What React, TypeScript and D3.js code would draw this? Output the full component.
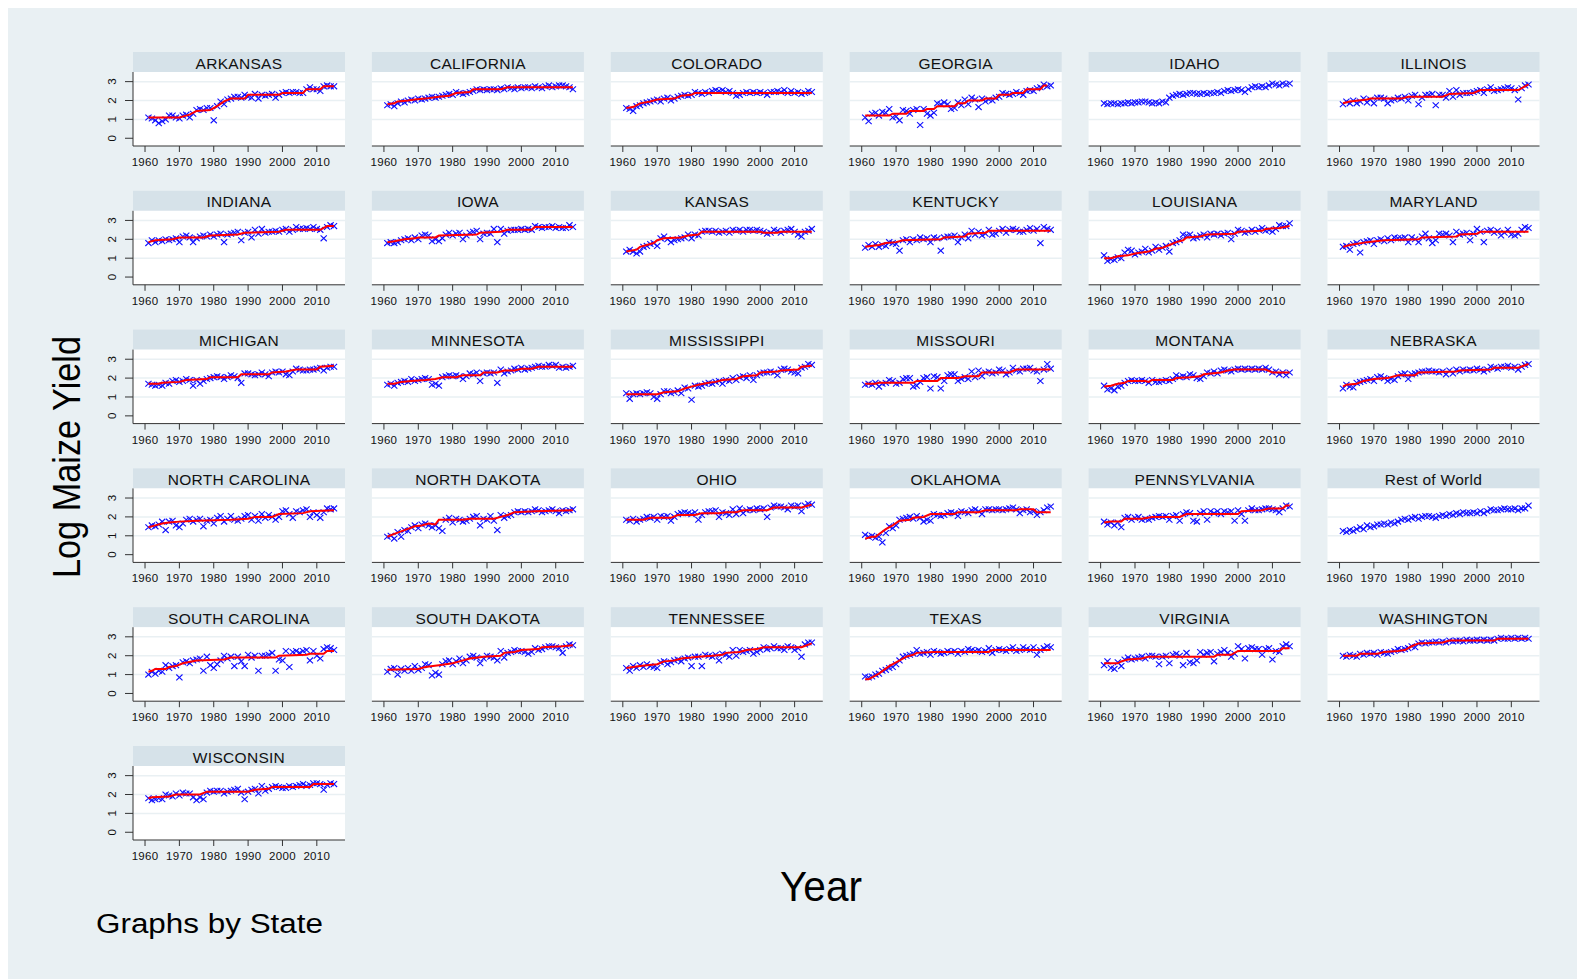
import React from 'react';
import * as d3 from 'd3';

const years = [
  1961, 1962, 1963, 1964, 1965, 1966, 1967, 1968, 1969, 1970, 1971,
  1972, 1973, 1974, 1975, 1976, 1977, 1978, 1979, 1980, 1981, 1982,
  1983, 1984, 1985, 1986, 1987, 1988, 1989, 1990, 1991, 1992, 1993,
  1994, 1995, 1996, 1997, 1998, 1999, 2000, 2001, 2002, 2003, 2004,
  2005, 2006, 2007, 2008, 2009, 2010, 2011, 2012, 2013, 2014, 2015,
];

const xTicks = [1960, 1970, 1980, 1990, 2000, 2010];
const yTicks = [0, 1, 2, 3];
const gridValues = [1, 2, 3];

const arkansas = [
  1.1, 1.05, 0.95, 0.8, 0.9, 1.0, 1.2, 1.2, 1.1, 1.05, 1.2,
  1.25, 1.1, 1.3, 1.5, 1.55, 1.5, 1.6, 1.6, 0.95, 1.7, 1.95,
  1.8, 2.05, 2.1, 2.2, 2.2, 2.15, 2.3, 2.2, 2.15, 2.35, 2.1,
  2.3, 2.25, 2.3, 2.35, 2.15, 2.3, 2.4, 2.45, 2.4, 2.45, 2.45,
  2.4, 2.4, 2.6, 2.7, 2.6, 2.6, 2.5, 2.75, 2.8, 2.75, 2.75,
];
const california = [
  1.75, 1.8, 1.7, 1.85, 1.95, 1.9, 2.0, 2.05, 2.0, 2.1, 2.05,
  2.1, 2.15, 2.2, 2.15, 2.2, 2.25, 2.3, 2.35, 2.3, 2.45, 2.4,
  2.35, 2.4, 2.45, 2.5, 2.6, 2.55, 2.6, 2.55, 2.6, 2.6, 2.55,
  2.65, 2.6, 2.7, 2.65, 2.6, 2.7, 2.65, 2.7, 2.7, 2.65, 2.75,
  2.7, 2.65, 2.75, 2.8, 2.7, 2.75, 2.8, 2.8, 2.75, 2.7, 2.6,
];
const colorado = [
  1.6, 1.55, 1.45, 1.7, 1.75, 1.85, 1.9, 1.95, 2.0, 2.05, 1.95,
  2.1, 2.15, 2.0, 2.1, 2.2, 2.25, 2.3, 2.25, 2.3, 2.45, 2.4,
  2.35, 2.45, 2.4, 2.5, 2.55, 2.5, 2.55, 2.45, 2.5, 2.4, 2.25,
  2.3, 2.4, 2.45, 2.4, 2.45, 2.4, 2.45, 2.4, 2.3, 2.45, 2.45,
  2.5, 2.45, 2.55, 2.4, 2.5, 2.4, 2.45, 2.35, 2.4, 2.5, 2.45,
];
const georgia = [
  1.1, 0.9, 1.3, 1.35, 1.2, 1.4, 1.35, 1.55, 1.1, 1.15, 0.95,
  1.5, 1.45, 1.3, 1.5, 1.55, 0.7, 1.55, 1.3, 1.2, 1.35, 1.85,
  1.8, 1.9, 1.8, 1.55, 1.6, 1.9, 1.75, 2.05, 1.8, 2.15, 2.05,
  1.65, 2.1, 1.95, 2.05, 2.0, 2.15, 2.2, 2.4, 2.35, 2.3, 2.35,
  2.45, 2.4, 2.3, 2.5, 2.55, 2.5, 2.65, 2.7, 2.85, 2.75, 2.8,
];
const idaho = [
  1.85, 1.8, 1.85, 1.85, 1.8, 1.85, 1.85, 1.9, 1.85, 1.9, 1.9,
  1.95, 1.95, 1.9, 1.85, 1.9, 1.85, 1.95, 1.9, 2.15, 2.25, 2.3,
  2.35, 2.3, 2.35, 2.4, 2.4, 2.35, 2.35, 2.4, 2.35, 2.4, 2.4,
  2.45, 2.4, 2.5, 2.55, 2.5, 2.55, 2.6, 2.55, 2.45, 2.6, 2.7,
  2.75, 2.7, 2.75, 2.7, 2.8, 2.9, 2.85, 2.8, 2.9, 2.85, 2.9,
];
const illinois = [
  1.8, 1.95, 1.85, 2.0, 1.85, 1.95, 2.1, 1.9, 2.05, 1.85, 2.15,
  2.15, 2.1, 1.85, 2.0, 2.05, 2.15, 2.1, 2.2, 2.0, 2.25, 2.3,
  1.8, 2.15, 2.3, 2.3, 2.35, 1.75, 2.3, 2.3, 2.15, 2.5, 2.2,
  2.55, 2.3, 2.4, 2.4, 2.4, 2.45, 2.5, 2.55, 2.4, 2.6, 2.7,
  2.5, 2.55, 2.6, 2.65, 2.7, 2.65, 2.55, 2.05, 2.65, 2.8, 2.85,
];
const indiana = [
  1.8, 1.95, 1.85, 1.95, 1.9, 2.0, 1.95, 2.0, 2.05, 1.85, 2.15,
  2.2, 2.1, 1.85, 2.05, 2.15, 2.2, 2.15, 2.25, 2.15, 2.25, 2.3,
  1.85, 2.25, 2.3, 2.35, 2.4, 1.95, 2.35, 2.4, 2.1, 2.5, 2.3,
  2.55, 2.35, 2.4, 2.4, 2.45, 2.4, 2.5, 2.55, 2.4, 2.5, 2.65,
  2.55, 2.55, 2.6, 2.55, 2.65, 2.55, 2.5, 2.05, 2.65, 2.75, 2.7,
];
const iowa = [
  1.8, 1.85, 1.8, 1.85, 1.95, 2.0, 2.05, 1.95, 2.1, 2.0, 2.2,
  2.25, 2.2, 1.9, 2.0, 1.9, 2.05, 2.25, 2.35, 2.2, 2.3, 2.35,
  2.0, 2.2, 2.35, 2.4, 2.45, 2.0, 2.3, 2.35, 2.3, 2.55, 1.85,
  2.55, 2.3, 2.45, 2.5, 2.5, 2.5, 2.55, 2.5, 2.55, 2.5, 2.7,
  2.65, 2.6, 2.65, 2.65, 2.7, 2.6, 2.65, 2.6, 2.6, 2.75, 2.65,
];
const kansas = [
  1.35, 1.45, 1.35, 1.25, 1.35, 1.6, 1.65, 1.75, 1.8, 1.65, 2.05,
  2.15, 2.0, 1.85, 1.95, 2.0, 2.05, 2.1, 2.25, 2.05, 2.25, 2.2,
  2.4, 2.45, 2.45, 2.4, 2.45, 2.35, 2.4, 2.45, 2.35, 2.5, 2.45,
  2.5, 2.4, 2.5, 2.5, 2.45, 2.5, 2.45, 2.4, 2.3, 2.35, 2.5,
  2.45, 2.35, 2.45, 2.5, 2.55, 2.4, 2.25, 2.15, 2.4, 2.45, 2.55,
];
const kentucky = [
  1.55, 1.7, 1.6, 1.75, 1.6, 1.7, 1.65, 1.85, 1.8, 1.75, 1.4,
  1.95, 2.0, 1.85, 2.0, 1.95, 2.1, 2.0, 2.05, 1.85, 2.1, 2.05,
  1.4, 2.1, 2.15, 2.15, 2.2, 1.85, 2.1, 2.25, 2.05, 2.45, 2.25,
  2.4, 2.2, 2.3, 2.5, 2.25, 2.3, 2.45, 2.55, 2.35, 2.5, 2.55,
  2.5, 2.4, 2.4, 2.5, 2.6, 2.45, 2.55, 1.8, 2.65, 2.55, 2.5,
];
const louisiana = [
  1.15, 0.85, 0.95, 0.9, 1.05, 1.0, 1.3, 1.45, 1.4, 1.2, 1.3,
  1.35, 1.5, 1.3, 1.4, 1.6, 1.45, 1.55, 1.65, 1.35, 1.8, 1.85,
  1.95, 2.25, 2.2, 2.25, 2.05, 2.1, 2.2, 2.25, 2.1, 2.3, 2.25,
  2.3, 2.2, 2.3, 2.35, 2.0, 2.3, 2.5, 2.45, 2.35, 2.4, 2.5,
  2.4, 2.5, 2.6, 2.45, 2.5, 2.4, 2.55, 2.75, 2.7, 2.7, 2.85,
];
const maryland = [
  1.6, 1.65, 1.45, 1.75, 1.8, 1.3, 1.85, 1.9, 1.95, 1.75, 1.95,
  2.0, 1.9, 2.05, 1.95, 2.1, 2.05, 2.05, 2.1, 1.85, 2.1, 2.0,
  1.85, 2.15, 2.3, 2.05, 1.8, 1.95, 2.3, 2.25, 2.3, 2.2, 1.85,
  2.4, 2.25, 2.3, 2.35, 1.95, 2.3, 2.55, 2.4, 1.85, 2.45, 2.5,
  2.35, 2.45, 2.2, 2.35, 2.5, 2.25, 2.2, 2.3, 2.5, 2.65, 2.6,
];
const michigan = [
  1.7, 1.65, 1.6, 1.65, 1.6, 1.75, 1.7, 1.85, 1.9, 1.8, 1.85,
  1.95, 1.9, 1.6, 1.9, 1.7, 1.85, 1.95, 2.0, 2.05, 2.1, 2.05,
  1.95, 2.05, 2.15, 2.1, 2.0, 1.75, 2.25, 2.25, 2.2, 2.15, 2.2,
  2.3, 2.2, 2.1, 2.3, 2.35, 2.3, 2.35, 2.2, 2.15, 2.35, 2.5,
  2.45, 2.4, 2.4, 2.45, 2.45, 2.5, 2.55, 2.4, 2.55, 2.6, 2.6,
];
const minnesota = [
  1.65, 1.7, 1.6, 1.75, 1.8, 1.85, 1.8, 1.95, 1.85, 1.9, 1.95,
  2.0, 1.95, 1.65, 1.7, 1.6, 2.05, 2.1, 2.15, 2.1, 2.15, 2.1,
  1.95, 2.1, 2.25, 2.2, 2.3, 1.85, 2.25, 2.3, 2.25, 2.3, 1.75,
  2.45, 2.25, 2.35, 2.4, 2.5, 2.45, 2.55, 2.45, 2.5, 2.55, 2.6,
  2.65, 2.6, 2.6, 2.7, 2.65, 2.7, 2.55, 2.6, 2.55, 2.6, 2.65,
];
const mississippi = [
  1.2, 0.9, 1.15, 1.2, 1.15, 1.2, 1.25, 1.2, 1.0, 0.9, 1.15,
  1.3, 1.3, 1.2, 1.25, 1.35, 1.2, 1.5, 1.45, 0.85, 1.6, 1.55,
  1.6, 1.7, 1.75, 1.7, 1.8, 1.85, 1.7, 1.9, 1.85, 2.0, 1.9,
  2.05, 2.1, 2.0, 2.15, 1.9, 2.15, 2.25, 2.3, 2.3, 2.35, 2.3,
  2.15, 2.45, 2.5, 2.45, 2.35, 2.3, 2.25, 2.55, 2.6, 2.75, 2.7,
];
const missouri = [
  1.65, 1.7, 1.65, 1.75, 1.55, 1.7, 1.75, 1.9, 1.85, 1.7, 1.75,
  1.95, 2.0, 2.0, 1.55, 1.6, 1.8, 2.0, 2.05, 1.45, 2.1, 2.05,
  1.45, 1.85, 2.15, 2.2, 2.2, 1.85, 1.95, 2.05, 1.95, 2.35, 2.05,
  2.4, 2.1, 2.3, 2.35, 2.25, 2.3, 2.45, 2.4, 2.2, 2.3, 2.55,
  2.4, 2.35, 2.5, 2.5, 2.55, 2.4, 2.35, 1.85, 2.45, 2.75, 2.5,
];
const montana = [
  1.6, 1.4, 1.45, 1.35, 1.55, 1.6, 1.75, 1.85, 1.9, 1.85, 1.85,
  1.9, 1.85, 1.75, 1.9, 1.8, 1.8, 1.85, 1.9, 1.85, 1.95, 2.15,
  2.05, 2.1, 2.05, 2.2, 2.15, 2.0, 1.95, 2.1, 2.3, 2.25, 2.35,
  2.25, 2.4, 2.45, 2.4, 2.35, 2.45, 2.5, 2.45, 2.5, 2.45, 2.5,
  2.45, 2.5, 2.45, 2.55, 2.45, 2.3, 2.35, 2.2, 2.3, 2.15, 2.3,
];
const nebraska = [
  1.45, 1.65, 1.55, 1.5, 1.75, 1.8, 1.85, 1.9, 1.95, 1.85, 2.05,
  2.1, 2.0, 1.85, 1.95, 1.9, 2.1, 2.2, 2.25, 1.95, 2.2, 2.25,
  2.3, 2.35, 2.35, 2.4, 2.35, 2.35, 2.3, 2.35, 2.2, 2.4, 2.25,
  2.45, 2.35, 2.45, 2.4, 2.45, 2.4, 2.5, 2.45, 2.35, 2.45, 2.6,
  2.55, 2.5, 2.6, 2.6, 2.65, 2.55, 2.6, 2.45, 2.6, 2.7, 2.75,
];
const northCarolina = [
  1.45, 1.55, 1.5, 1.6, 1.75, 1.3, 1.75, 1.8, 1.55, 1.45, 1.65,
  1.85, 1.9, 1.75, 1.85, 1.9, 1.5, 1.8, 1.85, 1.65, 1.95, 2.05,
  1.75, 1.9, 2.05, 1.85, 1.8, 1.9, 2.05, 2.1, 1.85, 2.05, 1.8,
  2.15, 1.95, 2.1, 2.0, 1.85, 2.0, 2.3, 2.35, 2.15, 1.95, 2.3,
  2.25, 2.35, 2.4, 2.0, 2.25, 2.1, 1.95, 2.25, 2.45, 2.4, 2.45,
];
const northDakota = [
  0.95, 1.0, 0.85, 1.2, 0.95, 1.3, 1.25, 1.45, 1.55, 1.4, 1.6,
  1.65, 1.55, 1.45, 1.55, 1.4, 1.25, 1.85, 1.95, 1.7, 1.9, 1.85,
  1.75, 1.8, 1.9, 2.0, 2.05, 1.55, 1.9, 1.85, 2.05, 1.8, 1.3,
  2.1, 1.95, 2.05, 2.1, 2.25, 2.3, 2.25, 2.3, 2.25, 2.3, 2.4,
  2.35, 2.25, 2.3, 2.35, 2.4, 2.3, 2.2, 2.35, 2.3, 2.35, 2.4,
];
const ohio = [
  1.85, 1.8, 1.9, 1.75, 1.85, 1.9, 2.0, 1.95, 2.0, 1.85, 2.05,
  2.0, 2.05, 1.8, 2.0, 2.15, 2.2, 2.25, 2.2, 2.15, 2.25, 1.85,
  2.1, 2.25, 2.3, 2.3, 2.35, 2.0, 2.25, 2.2, 2.1, 2.4, 2.15,
  2.45, 2.2, 2.35, 2.4, 2.35, 2.45, 2.4, 2.45, 2.0, 2.5, 2.6,
  2.55, 2.55, 2.5, 2.4, 2.6, 2.55, 2.6, 2.3, 2.6, 2.7, 2.65,
];
const oklahoma = [
  1.05, 0.95, 1.0, 0.9, 0.95, 0.65, 1.15, 1.5, 1.4, 1.55, 1.85,
  1.9, 1.95, 2.0, 1.9, 2.05, 1.95, 1.75, 1.85, 1.8, 2.15, 2.1,
  2.05, 2.1, 2.2, 2.25, 2.2, 2.05, 2.3, 2.25, 2.2, 2.35, 2.4,
  2.3, 2.15, 2.4, 2.4, 2.35, 2.4, 2.4, 2.35, 2.4, 2.45, 2.5,
  2.4, 2.2, 2.35, 2.4, 2.25, 2.3, 2.1, 2.25, 2.35, 2.5, 2.55,
];
const pennsylvania = [
  1.75, 1.6, 1.7, 1.55, 1.7, 1.45, 1.95, 2.0, 1.85, 1.95, 2.0,
  1.85, 1.9, 1.85, 1.95, 2.0, 2.05, 2.0, 2.05, 1.85, 2.05, 2.1,
  1.8, 2.15, 2.25, 2.2, 1.8, 1.75, 2.2, 2.3, 1.85, 2.3, 2.2,
  2.3, 2.15, 2.3, 2.25, 2.3, 1.8, 2.35, 2.15, 1.8, 2.35, 2.45,
  2.35, 2.35, 2.4, 2.45, 2.45, 2.4, 2.35, 2.25, 2.45, 2.6, 2.55,
];
const restOfWorld = [
  1.25, 1.2, 1.3, 1.25, 1.35, 1.45, 1.35, 1.55, 1.45, 1.5, 1.6,
  1.6, 1.65, 1.6, 1.7, 1.65, 1.75, 1.85, 1.9, 1.85, 1.95, 2.0,
  1.9, 2.0, 2.05, 2.05, 2.0, 1.95, 2.05, 2.1, 2.05, 2.15, 2.1,
  2.2, 2.15, 2.25, 2.2, 2.2, 2.25, 2.2, 2.3, 2.2, 2.3, 2.4,
  2.35, 2.35, 2.4, 2.45, 2.4, 2.4, 2.45, 2.35, 2.45, 2.45, 2.6,
];
const southCarolina = [
  1.0, 1.15, 1.05, 1.2, 1.15, 1.5, 1.35, 1.45, 1.5, 0.85, 1.65,
  1.7, 1.6, 1.75, 1.8, 1.85, 1.2, 1.95, 1.5, 1.35, 1.55, 1.75,
  2.0, 1.85, 1.95, 1.45, 1.95, 1.7, 1.45, 2.05, 1.9, 2.0, 1.2,
  2.0, 2.0, 2.05, 2.15, 1.2, 1.8, 1.75, 2.25, 1.4, 2.2, 2.25,
  2.15, 2.25, 2.3, 1.75, 2.25, 2.0, 1.85, 2.35, 2.45, 2.4, 2.3,
];
const southDakota = [
  1.15, 1.3, 1.35, 1.0, 1.3, 1.2, 1.35, 1.2, 1.45, 1.25, 1.35,
  1.55, 1.5, 0.95, 1.1, 1.0, 1.55, 1.7, 1.75, 1.55, 1.7, 1.85,
  1.6, 1.75, 1.95, 2.0, 1.9, 1.6, 1.85, 2.0, 1.95, 1.9, 1.75,
  2.25, 1.9, 2.15, 2.2, 2.3, 2.25, 2.25, 2.2, 2.1, 2.2, 2.4,
  2.3, 2.35, 2.45, 2.5, 2.5, 2.45, 2.4, 2.15, 2.5, 2.6, 2.55,
];
const tennessee = [
  1.35, 1.2, 1.45, 1.35, 1.5, 1.4, 1.55, 1.45, 1.4, 1.35, 1.65,
  1.7, 1.55, 1.65, 1.75, 1.8, 1.7, 1.85, 1.9, 1.45, 1.95, 1.95,
  1.45, 2.05, 2.0, 1.95, 2.05, 1.75, 2.1, 2.05, 1.95, 2.3, 2.0,
  2.3, 2.2, 2.25, 2.3, 2.1, 2.2, 2.3, 2.45, 2.35, 2.4, 2.5,
  2.4, 2.4, 2.3, 2.5, 2.45, 2.3, 2.4, 1.95, 2.6, 2.7, 2.7,
];
const texas = [
  0.9, 0.85, 0.9, 1.0, 1.05, 1.2, 1.25, 1.35, 1.4, 1.55, 1.75,
  1.95, 2.0, 2.05, 2.1, 2.3, 2.1, 2.15, 2.2, 2.05, 2.25, 2.2,
  2.1, 2.15, 2.25, 2.2, 2.25, 2.1, 2.25, 2.2, 2.35, 2.3, 2.25,
  2.3, 2.2, 2.25, 2.4, 2.15, 2.3, 2.35, 2.3, 2.25, 2.35, 2.45,
  2.25, 2.3, 2.45, 2.35, 2.3, 2.45, 2.05, 2.3, 2.4, 2.5, 2.45,
];
const virginia = [
  1.5, 1.7, 1.35, 1.3, 1.65, 1.45, 1.8, 1.9, 1.8, 1.85, 1.9,
  1.95, 1.85, 2.0, 2.0, 1.95, 1.55, 1.95, 2.0, 1.6, 2.05, 2.1,
  2.0, 1.5, 2.15, 1.65, 1.6, 1.75, 2.2, 2.05, 2.15, 2.2, 1.7,
  2.1, 2.2, 2.3, 2.15, 1.95, 2.1, 2.5, 2.35, 1.85, 2.4, 2.45,
  2.35, 2.35, 2.05, 2.35, 2.4, 1.8, 2.25, 2.2, 2.5, 2.6, 2.5,
];
const washington = [
  2.0, 1.95, 2.05, 2.0, 1.95, 2.1, 2.05, 2.15, 2.1, 2.15, 2.05,
  2.2, 2.15, 2.1, 2.2, 2.25, 2.35, 2.3, 2.35, 2.4, 2.5, 2.45,
  2.65, 2.7, 2.65, 2.7, 2.7, 2.75, 2.7, 2.75, 2.7, 2.8, 2.75,
  2.8, 2.8, 2.75, 2.85, 2.8, 2.8, 2.85, 2.8, 2.85, 2.8, 2.85,
  2.8, 2.9, 2.95, 2.9, 2.9, 2.95, 2.9, 2.95, 2.9, 2.95, 2.9,
];
const wisconsin = [
  1.8, 1.7, 1.75, 1.8, 1.75, 2.0, 1.95, 1.9, 2.05, 1.95, 2.1,
  2.05, 2.05, 1.85, 1.7, 1.85, 1.75, 2.1, 2.2, 2.15, 2.2, 2.2,
  2.05, 2.15, 2.2, 2.25, 2.3, 2.1, 1.75, 2.15, 2.25, 2.3, 2.05,
  2.45, 2.2, 2.3, 2.4, 2.45, 2.4, 2.35, 2.35, 2.45, 2.4, 2.45,
  2.5, 2.55, 2.45, 2.5, 2.6, 2.6, 2.55, 2.25, 2.5, 2.6, 2.55,
];

// Fitted trend (red line) break points: [year, value]
const arkansasTrend = [[1961, 1.1], [1970, 1.1], [1973, 1.25], [1975, 1.45], [1979, 1.5], [1981, 1.7], [1983, 1.95], [1985, 2.1], [1989, 2.1], [1990, 2.3], [1999, 2.3], [2000, 2.4], [2006, 2.4], [2007, 2.6], [2011, 2.6], [2012, 2.75], [2015, 2.75]];
const californiaTrend = [[1961, 1.8], [1963, 1.85], [1964, 1.95], [1967, 2.0], [1969, 2.05], [1972, 2.1], [1976, 2.2], [1979, 2.25], [1981, 2.4], [1985, 2.45], [1986, 2.6], [1994, 2.6], [1996, 2.7], [2015, 2.7]];
const coloradoTrend = [[1961, 1.6], [1963, 1.65], [1965, 1.85], [1968, 1.95], [1970, 2.05], [1975, 2.1], [1977, 2.25], [1980, 2.3], [1981, 2.4], [2015, 2.4]];
const georgiaTrend = [[1961, 1.2], [1968, 1.2], [1969, 1.3], [1973, 1.3], [1974, 1.45], [1978, 1.45], [1979, 1.55], [1981, 1.55], [1982, 1.7], [1987, 1.7], [1988, 1.85], [1990, 1.85], [1991, 2.0], [1995, 2.0], [1996, 2.1], [1999, 2.1], [2000, 2.3], [2003, 2.3], [2004, 2.4], [2007, 2.4], [2008, 2.6], [2012, 2.6], [2013, 2.8], [2014, 2.8]];
const illinoisTrend = [[1961, 1.85], [1963, 1.95], [1968, 2.05], [1969, 2.1], [1978, 2.1], [1980, 2.2], [1990, 2.2], [1992, 2.35], [1999, 2.4], [2001, 2.55], [2012, 2.55], [2015, 2.85]];
const indianaTrend = [[1961, 1.85], [1963, 1.95], [1968, 2.0], [1970, 2.1], [1977, 2.1], [1979, 2.2], [1987, 2.25], [1989, 2.35], [1999, 2.4], [2001, 2.5], [2011, 2.5], [2013, 2.7], [2015, 2.7]];
const iowaTrend = [[1961, 1.85], [1963, 1.9], [1966, 2.0], [1969, 2.05], [1970, 2.1], [1975, 2.1], [1976, 2.2], [1987, 2.25], [1988, 2.35], [1994, 2.4], [1996, 2.5], [2003, 2.5], [2004, 2.65], [2015, 2.65]];
const kansasTrend = [[1961, 1.35], [1964, 1.45], [1965, 1.6], [1969, 1.8], [1970, 1.95], [1972, 2.05], [1977, 2.1], [1979, 2.2], [1982, 2.25], [1983, 2.4], [2000, 2.4], [2001, 2.35], [2005, 2.35], [2006, 2.4], [2015, 2.4]];
const kentuckyTrend = [[1961, 1.6], [1965, 1.7], [1967, 1.8], [1970, 1.85], [1972, 1.95], [1983, 2.0], [1984, 2.1], [1990, 2.15], [1991, 2.3], [1996, 2.35], [1997, 2.45], [2015, 2.45]];
const louisianaTrend = [[1961, 1.0], [1963, 1.0], [1965, 1.1], [1968, 1.15], [1970, 1.25], [1972, 1.3], [1974, 1.35], [1976, 1.5], [1978, 1.55], [1980, 1.7], [1982, 1.85], [1984, 1.95], [1985, 2.1], [1989, 2.15], [1991, 2.25], [1999, 2.3], [2000, 2.4], [2007, 2.45], [2008, 2.55], [2012, 2.6], [2015, 2.7]];
const marylandTrend = [[1961, 1.6], [1963, 1.7], [1968, 1.85], [1973, 1.95], [1983, 2.0], [1984, 2.1], [1994, 2.15], [1995, 2.25], [2000, 2.3], [2001, 2.4], [2015, 2.4]];
const michiganTrend = [[1961, 1.7], [1964, 1.7], [1965, 1.75], [1970, 1.8], [1972, 1.9], [1978, 1.95], [1979, 2.05], [1987, 2.05], [1988, 2.2], [1996, 2.2], [1997, 2.3], [2001, 2.35], [2004, 2.45], [2010, 2.45], [2011, 2.6], [2015, 2.65]];
const minnesotaTrend = [[1961, 1.7], [1963, 1.7], [1965, 1.8], [1968, 1.85], [1972, 1.9], [1975, 1.95], [1977, 2.05], [1981, 2.05], [1983, 2.15], [1988, 2.15], [1989, 2.3], [1993, 2.3], [1995, 2.4], [1998, 2.4], [2000, 2.5], [2003, 2.5], [2005, 2.6], [2015, 2.6]];
const mississippiTrend = [[1961, 1.15], [1970, 1.15], [1972, 1.25], [1976, 1.3], [1978, 1.45], [1980, 1.55], [1982, 1.65], [1985, 1.75], [1987, 1.8], [1989, 1.9], [1993, 1.95], [1995, 2.1], [1999, 2.15], [2000, 2.3], [2005, 2.35], [2006, 2.4], [2011, 2.45], [2012, 2.6], [2015, 2.65]];
const missouriTrend = [[1961, 1.7], [1964, 1.7], [1965, 1.75], [1975, 1.75], [1976, 1.85], [1982, 1.85], [1983, 2.0], [1988, 2.0], [1990, 2.1], [1994, 2.1], [1995, 2.3], [2003, 2.3], [2005, 2.45], [2015, 2.45]];
const montanaTrend = [[1961, 1.55], [1963, 1.6], [1965, 1.7], [1967, 1.75], [1968, 1.85], [1973, 1.85], [1974, 1.8], [1975, 1.9], [1981, 1.9], [1982, 2.0], [1986, 2.05], [1989, 2.1], [1990, 2.2], [1995, 2.3], [1997, 2.4], [1999, 2.45], [2008, 2.45], [2010, 2.3], [2015, 2.3]];
const nebraskaTrend = [[1961, 1.55], [1962, 1.65], [1965, 1.7], [1967, 1.85], [1970, 1.95], [1974, 2.0], [1977, 2.15], [1982, 2.15], [1983, 2.3], [1994, 2.35], [1995, 2.4], [2004, 2.45], [2005, 2.55], [2012, 2.55], [2015, 2.75]];
const northCarolinaTrend = [[1961, 1.45], [1963, 1.55], [1965, 1.65], [1967, 1.7], [1970, 1.75], [1975, 1.8], [1985, 1.85], [1990, 1.9], [1992, 2.0], [1997, 2.0], [1999, 2.15], [2006, 2.2], [2008, 2.3], [2015, 2.35]];
const northDakotaTrend = [[1961, 0.95], [1963, 1.1], [1966, 1.3], [1969, 1.5], [1971, 1.55], [1973, 1.65], [1975, 1.6], [1976, 1.85], [1983, 1.85], [1985, 1.9], [1992, 1.9], [1994, 2.0], [1996, 2.1], [1998, 2.25], [2004, 2.3], [2015, 2.35]];
const ohioTrend = [[1961, 1.85], [1966, 1.85], [1968, 1.95], [1974, 1.95], [1976, 2.1], [1981, 2.1], [1983, 2.2], [1988, 2.2], [1990, 2.25], [1993, 2.25], [1995, 2.35], [2002, 2.35], [2004, 2.5], [2012, 2.5], [2015, 2.65]];
const oklahomaTrend = [[1961, 0.85], [1963, 0.95], [1964, 0.95], [1967, 1.35], [1969, 1.55], [1971, 1.8], [1974, 1.85], [1975, 1.95], [1978, 2.0], [1980, 2.15], [1987, 2.15], [1988, 2.25], [1994, 2.25], [1996, 2.35], [2005, 2.35], [2006, 2.4], [2010, 2.4], [2011, 2.25], [2015, 2.25]];
const pennsylvaniaTrend = [[1961, 1.7], [1963, 1.75], [1966, 1.75], [1967, 1.9], [1972, 1.9], [1975, 2.0], [1983, 2.0], [1985, 2.15], [2000, 2.15], [2001, 2.3], [2007, 2.35], [2009, 2.45], [2013, 2.45], [2014, 2.6], [2015, 2.6]];
const southCarolinaTrend = [[1961, 1.15], [1962, 1.2], [1963, 1.3], [1966, 1.3], [1967, 1.4], [1969, 1.45], [1971, 1.6], [1975, 1.75], [1983, 1.8], [1985, 1.9], [1998, 1.9], [1999, 2.0], [2007, 2.05], [2008, 2.1], [2012, 2.1], [2013, 2.25], [2015, 2.25]];
const southDakotaTrend = [[1961, 1.25], [1970, 1.3], [1972, 1.4], [1976, 1.5], [1980, 1.6], [1982, 1.7], [1985, 1.85], [1989, 1.95], [1994, 2.0], [1995, 2.15], [1998, 2.2], [2000, 2.3], [2005, 2.35], [2006, 2.45], [2012, 2.5], [2015, 2.55]];
const tennesseeTrend = [[1961, 1.35], [1965, 1.45], [1967, 1.5], [1970, 1.55], [1972, 1.7], [1975, 1.75], [1977, 1.85], [1980, 1.9], [1982, 1.95], [1986, 2.0], [1989, 2.05], [1990, 2.15], [1994, 2.2], [1996, 2.3], [1999, 2.35], [2001, 2.45], [2012, 2.45], [2015, 2.65]];
const texasTrend = [[1961, 0.75], [1962, 0.75], [1965, 1.05], [1968, 1.45], [1970, 1.65], [1973, 1.95], [1975, 2.05], [1976, 2.15], [1981, 2.2], [1997, 2.2], [1998, 2.3], [2015, 2.3]];
const virginiaTrend = [[1961, 1.6], [1965, 1.6], [1966, 1.7], [1968, 1.8], [1972, 1.85], [1974, 1.95], [1993, 1.95], [1994, 2.05], [1998, 2.05], [2000, 2.25], [2012, 2.25], [2013, 2.4], [2015, 2.4]];
const washingtonTrend = [[1961, 2.0], [1965, 2.0], [1966, 2.1], [1971, 2.1], [1973, 2.2], [1977, 2.25], [1979, 2.3], [1981, 2.5], [1983, 2.65], [1990, 2.7], [1992, 2.8], [2005, 2.8], [2006, 2.9], [2015, 2.9]];
const wisconsinTrend = [[1961, 1.8], [1962, 1.85], [1967, 1.9], [1969, 2.0], [1976, 2.0], [1978, 2.15], [1990, 2.15], [1992, 2.25], [1996, 2.3], [1997, 2.4], [2008, 2.4], [2009, 2.55], [2015, 2.55]];

const stateNames = [
  'ARKANSAS', 'CALIFORNIA', 'COLORADO', 'GEORGIA', 'IDAHO', 'ILLINOIS',
  'INDIANA', 'IOWA', 'KANSAS', 'KENTUCKY', 'LOUISIANA', 'MARYLAND',
  'MICHIGAN', 'MINNESOTA', 'MISSISSIPPI', 'MISSOURI', 'MONTANA', 'NEBRASKA',
  'NORTH CAROLINA', 'NORTH DAKOTA', 'OHIO', 'OKLAHOMA', 'PENNSYLVANIA', 'Rest of World',
  'SOUTH CAROLINA', 'SOUTH DAKOTA', 'TENNESSEE', 'TEXAS', 'VIRGINIA', 'WASHINGTON',
  'WISCONSIN',
];
const stateValues = [
  arkansas, california, colorado, georgia, idaho, illinois,
  indiana, iowa, kansas, kentucky, louisiana, maryland,
  michigan, minnesota, mississippi, missouri, montana, nebraska,
  northCarolina, northDakota, ohio, oklahoma, pennsylvania, restOfWorld,
  southCarolina, southDakota, tennessee, texas, virginia, washington,
  wisconsin,
];
const stateTrends: (number[][] | null)[] = [
  arkansasTrend, californiaTrend, coloradoTrend, georgiaTrend, null, illinoisTrend,
  indianaTrend, iowaTrend, kansasTrend, kentuckyTrend, louisianaTrend, marylandTrend,
  michiganTrend, minnesotaTrend, mississippiTrend, missouriTrend, montanaTrend, nebraskaTrend,
  northCarolinaTrend, northDakotaTrend, ohioTrend, oklahomaTrend, pennsylvaniaTrend, null,
  southCarolinaTrend, southDakotaTrend, tennesseeTrend, texasTrend, virginiaTrend, washingtonTrend,
  wisconsinTrend,
];

// layout (page coordinates)
const COL0 = 133;
const COLSTEP = 238.9;
const PW = 212;
const ROW0 = 52;
const ROWSTEP = 138.8;
const HEAD = 20;
const PH = 74;

const BG = '#e9f0f3';
const HEADER_BG = '#d6e2e9';
const FONT = '"Liberation Sans", Arial, Helvetica, sans-serif';

const markerPath = (a: number, b: number) => `M${-a},${-b}L${a},${b}M${-a},${b}L${a},${-b}`;

export default function App() {
  const mk = markerPath(3.1, 2.9);
  const panels = stateNames.map((name, i) => {
    const col = i % 6;
    const row = Math.floor(i / 6);
    const left = COL0 + col * COLSTEP;
    const top = ROW0 + row * ROWSTEP;
    const x = d3.scaleLinear().domain([1956.5, 2018.2]).range([left, left + PW]);
    const y = d3.scaleLinear().domain([-0.41, 3.51]).range([top + HEAD + PH, top + HEAD]);
    const vals = stateValues[i];
    const trend = stateTrends[i];
    const line = d3
      .line<number[]>()
      .x((d) => x(d[0]))
      .y((d) => y(d[1]));
    const bottom = top + HEAD + PH;
    return (
      <g key={name}>
        <rect x={left} y={top} width={PW} height={HEAD} fill={HEADER_BG} />
        <text
          x={left + PW / 2}
          y={top + 16.5}
          textAnchor="middle"
          fontSize={15.5}
          letterSpacing={0.3}
          fill="#111"
        >
          {name}
        </text>
        <rect x={left} y={top + HEAD} width={PW} height={PH} fill="#ffffff" />
        {gridValues.map((g) => (
          <line
            key={g}
            x1={left}
            x2={left + PW}
            y1={y(g)}
            y2={y(g)}
            stroke={BG}
            strokeWidth={1.5}
          />
        ))}
        {vals.map((v, k) => (
          <path
            key={k}
            d={mk}
            transform={`translate(${x(years[k])},${y(v)})`}
            stroke="#0f0fff"
            strokeWidth={1.1}
            fill="none"
          />
        ))}
        {trend && (
          <path d={line(trend) || ''} fill="none" stroke="#ff0000" strokeWidth={2} />
        )}
        <line x1={left} x2={left + PW} y1={bottom} y2={bottom} stroke="#333" strokeWidth={1} />
        {xTicks.map((t) => (
          <g key={t}>
            <line x1={x(t)} x2={x(t)} y1={bottom} y2={bottom + 6} stroke="#333" strokeWidth={1} />
            <text
              x={x(t)}
              y={bottom + 20}
              textAnchor="middle"
              fontSize={11.5}
              letterSpacing={0.3}
              fill="#111"
            >
              {t}
            </text>
          </g>
        ))}
        {col === 0 && (
          <g>
            <line x1={left} x2={left} y1={top + HEAD} y2={bottom} stroke="#333" strokeWidth={1} />
            {yTicks.map((t) => (
              <g key={t}>
                <line x1={left - 8} x2={left} y1={y(t)} y2={y(t)} stroke="#333" strokeWidth={1} />
                <text
                  transform={`translate(116,${y(t)}) rotate(-90)`}
                  textAnchor="middle"
                  fontSize={11.5}
                  fill="#111"
                >
                  {t}
                </text>
              </g>
            ))}
          </g>
        )}
      </g>
    );
  });

  return (
    <div>
      <style>{`body{overflow:hidden}`}</style>
      <svg width={1569} height={971} style={{ display: 'block' }} fontFamily={FONT}>
        <g transform="translate(-8,-8)">
          <rect x={8} y={8} width={1569} height={971} fill={BG} />
          {panels}
          <text
            transform="translate(80,457) rotate(-90)"
            textAnchor="middle"
            fontSize={38}
            textLength={242}
            lengthAdjust="spacingAndGlyphs"
            fill="#000"
          >
            Log Maize Yield
          </text>
          <text
            x={821}
            y={901}
            textAnchor="middle"
            fontSize={42}
            textLength={82}
            lengthAdjust="spacingAndGlyphs"
            fill="#000"
          >
            Year
          </text>
          <text
            x={96}
            y={933}
            fontSize={27}
            textLength={227}
            lengthAdjust="spacingAndGlyphs"
            fill="#000"
          >
            Graphs by State
          </text>
        </g>
      </svg>
    </div>
  );
}
